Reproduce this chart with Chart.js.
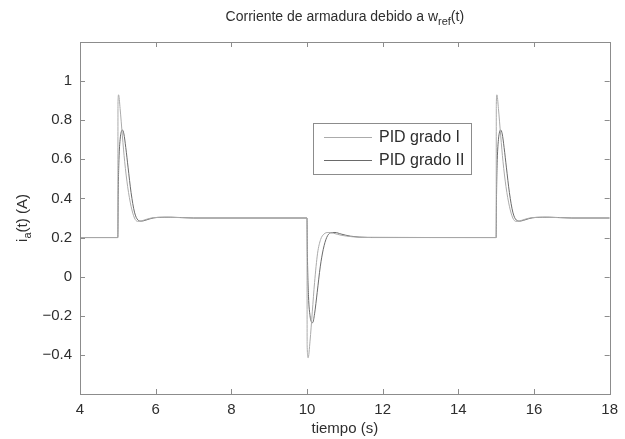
<!DOCTYPE html>
<html>
<head>
<meta charset="utf-8">
<script src="https://cdn.jsdelivr.net/npm/chart.js@4.4.1/dist/chart.umd.min.js"></script>
<style>
  html, body { margin: 0; padding: 0; background: #fff; }
  canvas { display: block; }
</style>
</head>
<body>
<canvas id="armaduraChart" width="625" height="439"></canvas>
<script>
// Armature current response, two PID designs
const seriesLabels = ['PID grado I', 'PID grado II'];

const timeGradoI = [
  4, 5, 5.004, 5.02, 5.06, 5.12, 5.18, 5.26, 5.35, 5.44, 5.52, 5.62, 5.75, 5.95, 6.3, 7,
  10, 10.004, 10.03, 10.08, 10.14, 10.2, 10.28, 10.36, 10.45, 10.56, 10.7, 10.9, 11.2, 11.7,
  15, 15.004, 15.02, 15.06, 15.12, 15.18, 15.26, 15.35, 15.44, 15.52, 15.62, 15.75, 15.95, 16.3, 17, 18
];
const currentGradoI = [
  0.2, 0.2, 0.88, 0.93, 0.86, 0.72, 0.59, 0.46, 0.36, 0.3, 0.283, 0.285, 0.293, 0.302, 0.304, 0.3,
  0.3, -0.35, -0.415, -0.33, -0.18, -0.03, 0.12, 0.19, 0.218, 0.226, 0.222, 0.212, 0.204, 0.2,
  0.2, 0.88, 0.93, 0.86, 0.72, 0.59, 0.46, 0.36, 0.3, 0.283, 0.285, 0.293, 0.302, 0.304, 0.3, 0.3
];

const timeGradoII = [
  4, 5, 5.01, 5.03, 5.06, 5.09, 5.12, 5.16, 5.21, 5.27, 5.35, 5.44, 5.53, 5.62, 5.72, 5.85, 6.05, 6.4, 7,
  10, 10.01, 10.04, 10.08, 10.12, 10.15, 10.2, 10.27, 10.35, 10.43, 10.52, 10.62, 10.74, 10.9, 11.15, 11.6,
  15, 15.01, 15.03, 15.06, 15.09, 15.12, 15.16, 15.21, 15.27, 15.35, 15.44, 15.53, 15.62, 15.72, 15.85, 16.05, 16.4, 17, 18
];
const currentGradoII = [
  0.2, 0.2, 0.42, 0.6, 0.7, 0.74, 0.75, 0.73, 0.66, 0.56, 0.43, 0.33, 0.29, 0.284, 0.288, 0.296, 0.303, 0.304, 0.3,
  0.3, 0.12, -0.1, -0.2, -0.232, -0.235, -0.19, -0.08, 0.05, 0.14, 0.2, 0.224, 0.226, 0.218, 0.207, 0.201,
  0.2, 0.42, 0.6, 0.7, 0.74, 0.75, 0.73, 0.66, 0.56, 0.43, 0.33, 0.29, 0.284, 0.288, 0.296, 0.303, 0.304, 0.3, 0.3
];

const xTicks = [4, 6, 8, 10, 12, 14, 16, 18];
const yTicks = [-0.4, -0.2, 0, 0.2, 0.4, 0.6, 0.8, 1];

const FONT = '"Liberation Sans", Arial, sans-serif';
const TEXT_COLOR = '#2e2e2e';
const FRAME_COLOR = '#8c8c8c';

function toPoints(xs, ys) {
  return xs.map((x, i) => ({ x: x, y: ys[i] }));
}

// MATLAB-like box, inner ticks, legend and labels with subscripts
const matlabFrame = {
  id: 'matlabFrame',
  afterDraw(chart) {
    const ctx = chart.ctx;
    const a = chart.chartArea;
    const xs = chart.scales.x;
    const ys = chart.scales.y;
    const tick = 5;

    ctx.save();
    ctx.strokeStyle = FRAME_COLOR;
    ctx.lineWidth = 1;
    ctx.strokeRect(Math.round(a.left) + 0.5, Math.round(a.top) + 0.5,
      Math.round(a.right - a.left), Math.round(a.bottom - a.top));

    ctx.beginPath();
    xTicks.forEach(v => {
      const px = Math.round(xs.getPixelForValue(v)) + 0.5;
      ctx.moveTo(px, a.bottom); ctx.lineTo(px, a.bottom - tick);
      ctx.moveTo(px, a.top); ctx.lineTo(px, a.top + tick);
    });
    yTicks.forEach(v => {
      const py = Math.round(ys.getPixelForValue(v)) + 0.5;
      ctx.moveTo(a.left, py); ctx.lineTo(a.left + tick, py);
      ctx.moveTo(a.right, py); ctx.lineTo(a.right - tick, py);
    });
    ctx.stroke();

    // title: "Corriente de armadura debido a w_ref(t)"
    ctx.fillStyle = TEXT_COLOR;
    ctx.textBaseline = 'alphabetic';
    ctx.textAlign = 'left';
    const mainFont = '14px ' + FONT;
    const subFont = '11px ' + FONT;
    const t1 = 'Corriente de armadura debido a w';
    const t2 = 'ref';
    const t3 = '(t)';
    ctx.font = mainFont;
    const w1 = ctx.measureText(t1).width;
    const w3 = ctx.measureText(t3).width;
    ctx.font = subFont;
    const w2 = ctx.measureText(t2).width;
    let tx = (a.left + a.right) / 2 - (w1 + w2 + w3) / 2;
    const ty = 21;
    ctx.font = mainFont;
    ctx.fillText(t1, tx, ty); tx += w1;
    ctx.font = subFont;
    ctx.fillText(t2, tx, ty + 4); tx += w2;
    ctx.font = mainFont;
    ctx.fillText(t3, tx, ty);

    // x axis label
    ctx.font = '15px ' + FONT;
    ctx.textAlign = 'center';
    ctx.fillText('tiempo (s)', (a.left + a.right) / 2, 433);

    // y axis label: "i_a(t) (A)"
    ctx.save();
    ctx.translate(27, (a.top + a.bottom) / 2);
    ctx.rotate(-Math.PI / 2);
    ctx.textAlign = 'left';
    const yl1 = 'i', yl2 = 'a', yl3 = '(t) (A)';
    ctx.font = '15px ' + FONT;
    const yw1 = ctx.measureText(yl1).width;
    const yw3 = ctx.measureText(yl3).width;
    ctx.font = '11px ' + FONT;
    const yw2 = ctx.measureText(yl2).width;
    let lx = -(yw1 + yw2 + yw3) / 2;
    ctx.font = '15px ' + FONT;
    ctx.fillText(yl1, lx, 0); lx += yw1;
    ctx.font = '11px ' + FONT;
    ctx.fillText(yl2, lx, 4); lx += yw2;
    ctx.font = '15px ' + FONT;
    ctx.fillText(yl3, lx, 0);
    ctx.restore();

    // legend box
    const lg = { left: 313, top: 123, width: 158, height: 51 };
    ctx.fillStyle = '#ffffff';
    ctx.fillRect(lg.left, lg.top, lg.width, lg.height);
    ctx.strokeStyle = FRAME_COLOR;
    ctx.strokeRect(lg.left + 0.5, lg.top + 0.5, lg.width, lg.height);
    ctx.font = '16px ' + FONT;
    ctx.textAlign = 'left';
    ctx.textBaseline = 'middle';
    chart.data.datasets.forEach((ds, i) => {
      const rowY = lg.top + 14 + i * 23;
      ctx.strokeStyle = ds.borderColor;
      ctx.lineWidth = 1;
      ctx.beginPath();
      ctx.moveTo(324, rowY + 0.5);
      ctx.lineTo(372, rowY + 0.5);
      ctx.stroke();
      ctx.fillStyle = TEXT_COLOR;
      ctx.fillText(ds.label, 379, rowY + 1);
    });
    ctx.restore();
  }
};

const ctx = document.getElementById('armaduraChart').getContext('2d');
new Chart(ctx, {
  type: 'line',
  data: {
    datasets: [
      {
        label: seriesLabels[0],
        data: toPoints(timeGradoI, currentGradoI),
        borderColor: '#ababab',
        borderWidth: 1,
        pointRadius: 0,
        cubicInterpolationMode: 'monotone',
        fill: false
      },
      {
        label: seriesLabels[1],
        data: toPoints(timeGradoII, currentGradoII),
        borderColor: '#6a6a6a',
        borderWidth: 1,
        pointRadius: 0,
        cubicInterpolationMode: 'monotone',
        fill: false
      }
    ]
  },
  options: {
    responsive: false,
    animation: false,
    layout: { padding: { left: 0, top: 42, right: 9, bottom: 0 } },
    plugins: {
      legend: { display: false },
      title: { display: false },
      tooltip: { enabled: false }
    },
    scales: {
      x: {
        type: 'linear',
        min: 4,
        max: 18,
        afterBuildTicks: s => { s.ticks = xTicks.map(v => ({ value: v })); },
        afterFit: s => { s.height = 45; },
        grid: { display: false, drawTicks: false },
        border: { display: false },
        ticks: {
          padding: 7,
          color: TEXT_COLOR,
          font: { family: FONT, size: 15 },
          maxRotation: 0,
          callback: v => String(v)
        }
      },
      y: {
        type: 'linear',
        min: -0.6,
        max: 1.2,
        afterBuildTicks: s => { s.ticks = yTicks.map(v => ({ value: v })); },
        afterFit: s => { s.width = 80; },
        grid: { display: false, drawTicks: false },
        border: { display: false },
        ticks: {
          padding: 8,
          color: TEXT_COLOR,
          font: { family: FONT, size: 15 },
          callback: v => (Math.round(v * 10) / 10).toString().replace('-', '\u2212')
        }
      }
    }
  },
  plugins: [matlabFrame]
});
</script>
</body>
</html>
